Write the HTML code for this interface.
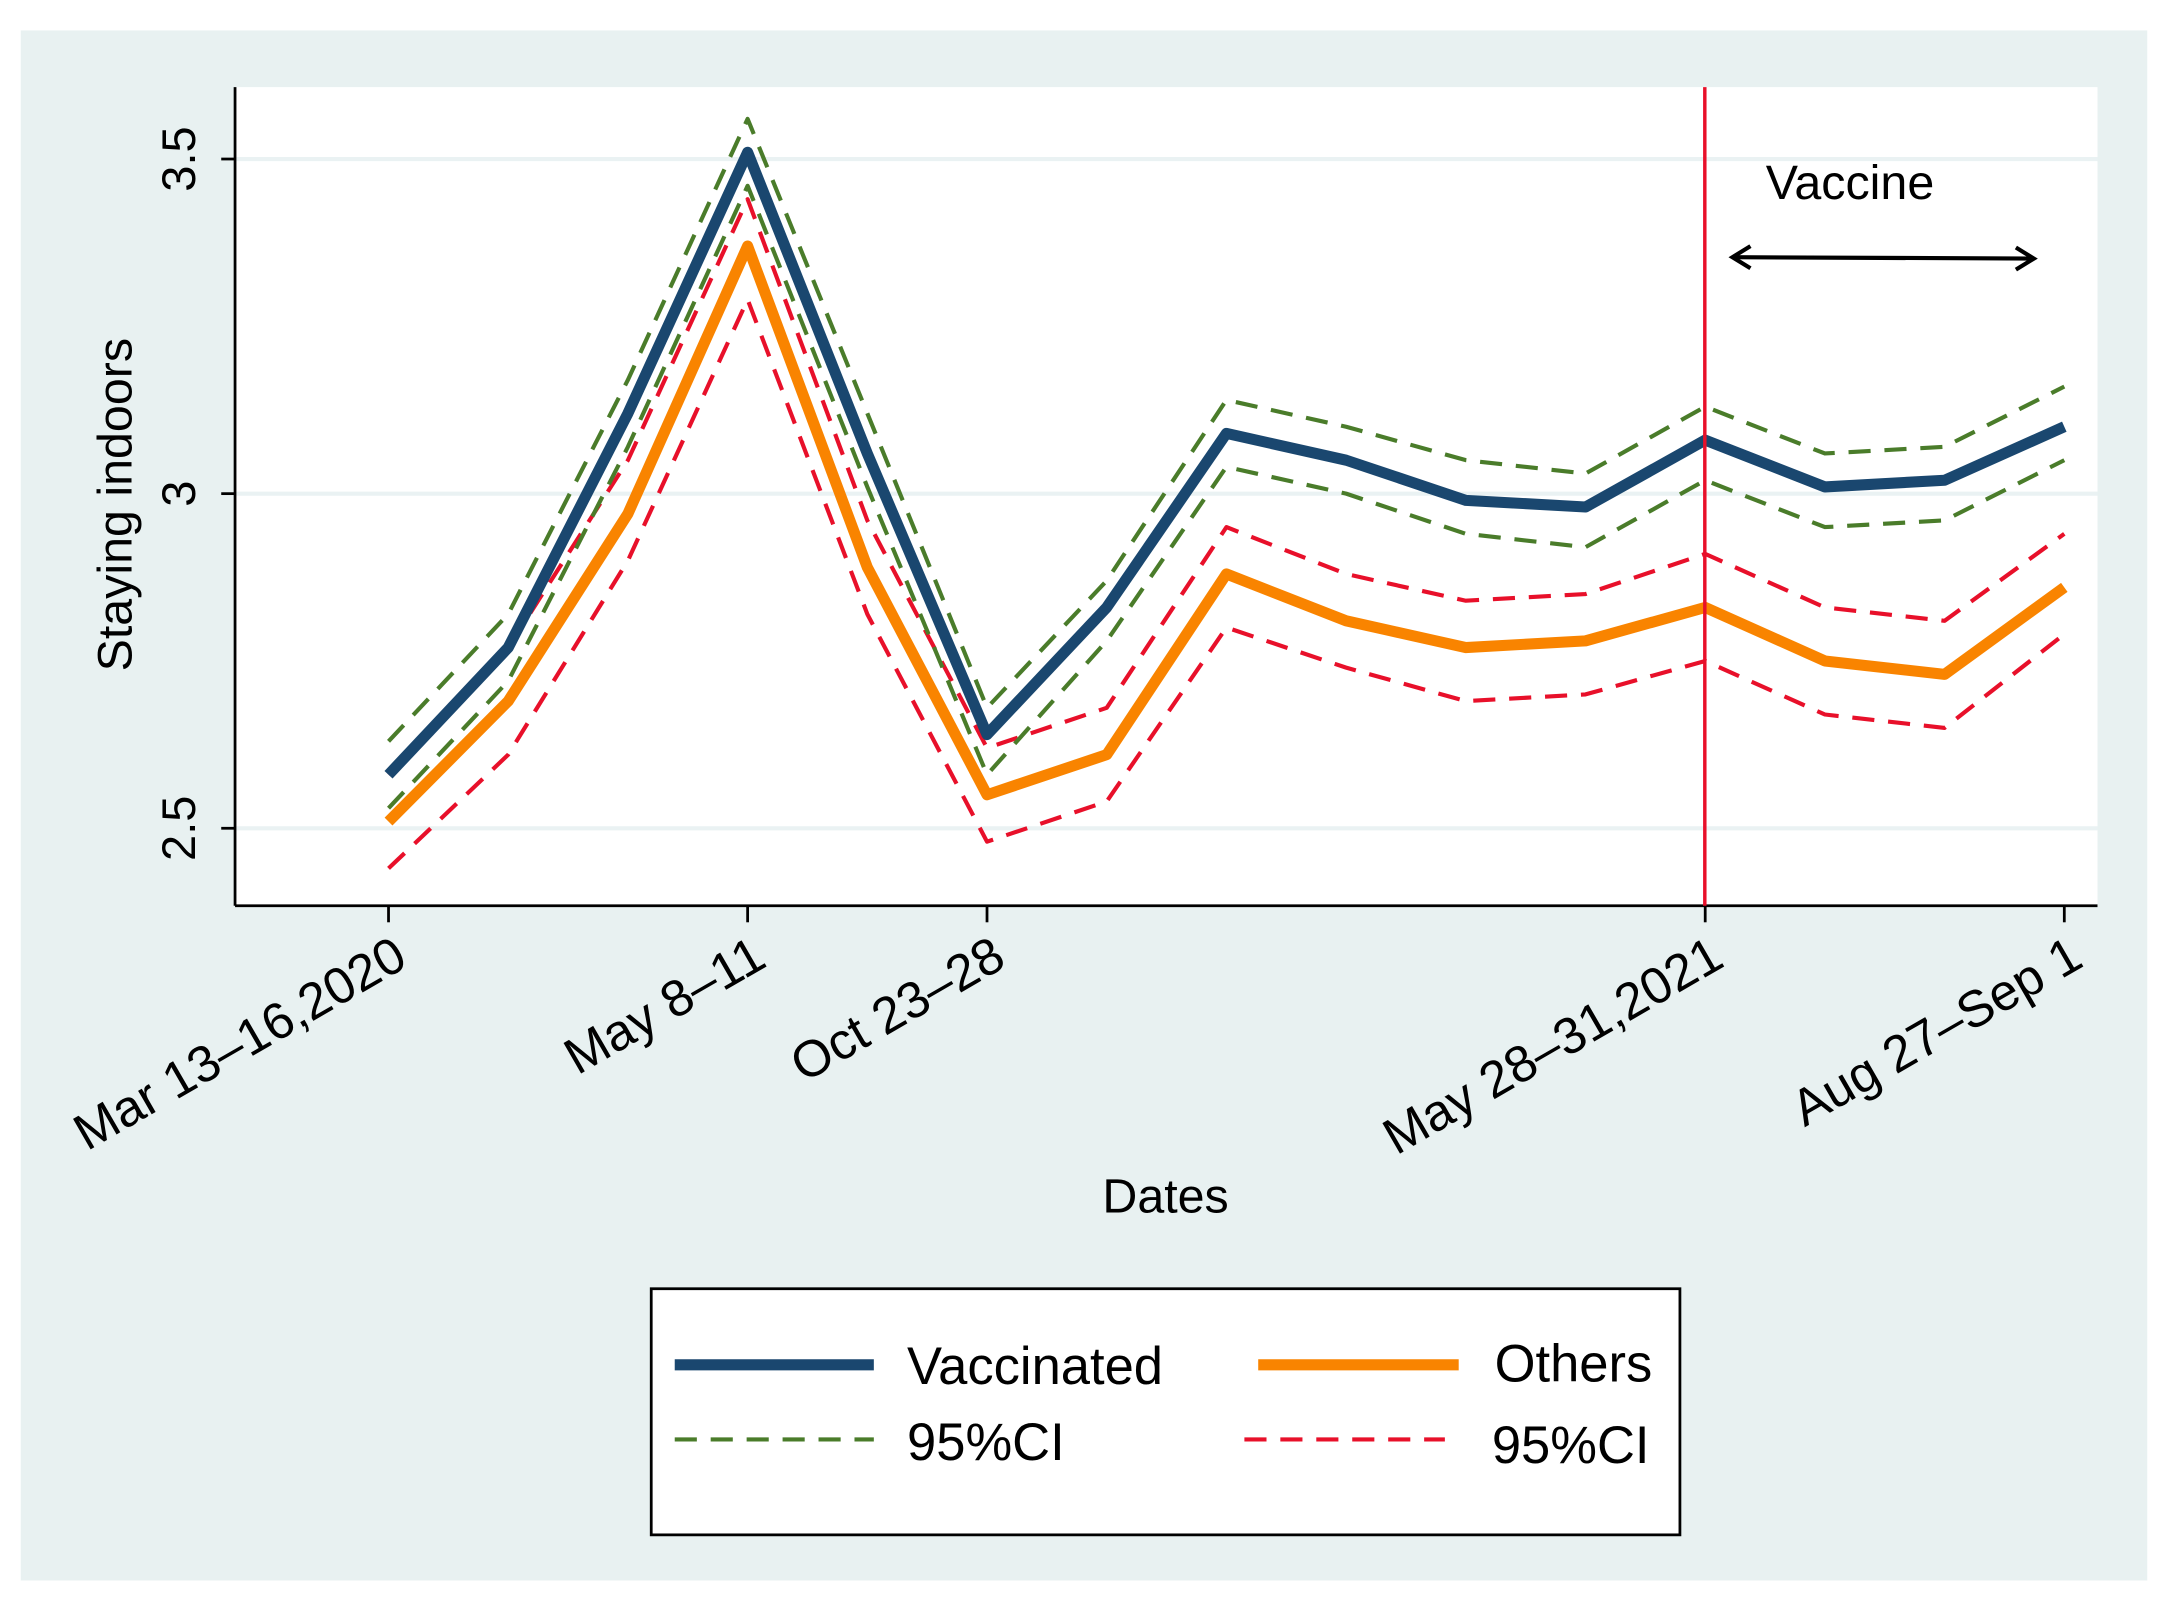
<!DOCTYPE html>
<html><head><meta charset="utf-8"><style>
html,body{margin:0;padding:0;background:#fff}
svg{display:block;font-family:"Liberation Sans",Arial,sans-serif}
</style></head><body>
<svg id="chart" width="2168" height="1604" viewBox="0 0 1568 1160" preserveAspectRatio="none" xmlns="http://www.w3.org/2000/svg">
<rect x="0" y="0" width="1568" height="1160" fill="#ffffff"/>
<rect x="15" y="22" width="1538" height="1121" fill="#e8f1f1"/>
<rect x="170" y="63" width="1347" height="592" fill="#ffffff"/>
<g id="grid"></g>
<g id="axes"></g>
<g id="series"></g>
<line x1="1233" y1="63" x2="1233" y2="655" stroke="#e8102a" stroke-width="2.5"/>
<text x="1338" y="144" font-size="35" text-anchor="middle" fill="#000">Vaccine</text>
<g stroke="#000" stroke-width="3" fill="none">
<line x1="1253" y1="186" x2="1471" y2="187"/>
<polyline points="1266,178 1253,186 1266,194"/>
<polyline points="1458,179 1471,187 1458,195"/>
</g>
<text transform="translate(95,365) rotate(-90)" font-size="35" text-anchor="middle" fill="#000">Staying indoors</text>
<text x="843" y="877" font-size="35" text-anchor="middle" fill="#000">Dates</text>
<g>
<rect x="471" y="932" width="744" height="178" fill="#fff" stroke="#000" stroke-width="2"/>
<line x1="488" y1="987" x2="632" y2="987" stroke="#1a476f" stroke-width="8"/>
<text x="656" y="1001" font-size="38">Vaccinated</text>
<line x1="910" y1="987" x2="1055" y2="987" stroke="#f98400" stroke-width="8"/>
<text x="1195" y="999" font-size="38" text-anchor="end">Others</text>
<line x1="488" y1="1041" x2="632" y2="1041" stroke="#4a7c2a" stroke-width="3" stroke-dasharray="16,10"/>
<text x="656" y="1056" font-size="38">95%CI</text>
<line x1="900" y1="1041" x2="1045" y2="1041" stroke="#e8102a" stroke-width="3" stroke-dasharray="16,10"/>
<text x="1193" y="1058" font-size="38" text-anchor="end">95%CI</text>
</g>
</svg>
<script>
const vaccinated = [2.58,2.77,3.12,3.51,3.06,2.64,2.83,3.09,3.05,2.99,2.98,3.08,3.01,3.02,3.10];
const vaccinatedUpper = [2.63,2.82,3.17,3.56,3.12,2.68,2.87,3.14,3.10,3.05,3.03,3.13,3.06,3.07,3.16];
const vaccinatedLower = [2.53,2.72,3.07,3.46,3.01,2.58,2.78,3.04,3.00,2.94,2.92,3.02,2.95,2.96,3.05];
const others = [2.51,2.69,2.97,3.37,2.89,2.55,2.61,2.88,2.81,2.77,2.78,2.83,2.75,2.73,2.86];
const othersUpper = [2.58,2.77,3.05,3.44,2.96,2.62,2.68,2.95,2.88,2.84,2.85,2.91,2.83,2.81,2.94];
const othersLower = [2.44,2.61,2.90,3.29,2.82,2.48,2.54,2.80,2.74,2.69,2.70,2.75,2.67,2.65,2.79];
const yTicks = [2.5,3,3.5];
const yTickLabels = ["2.5","3","3.5"];
const xTickIdx = [0,3,5,11,14];
const xTickLabels = ["Mar 13\u201316,2020","May 8\u201311","Oct 23\u201328","May 28\u201331,2021","Aug 27\u2013Sep 1"];

const NS="http://www.w3.org/2000/svg";
const xs = i => 281 + i*(1493-281)/14;
const ys = v => 357 - (v-3)*484;
function mk(tag, attrs, parent){const e=document.createElementNS(NS,tag);for(const k in attrs)e.setAttribute(k,attrs[k]);parent.appendChild(e);return e;}
const grid=document.getElementById('grid'), axes=document.getElementById('axes'), series=document.getElementById('series');
yTicks.forEach((v,i)=>{
  const g=mk('line',{x1:170,x2:1517,y1:ys(v),y2:ys(v),stroke:'#eaf2f3','stroke-width':3},grid);
  
  
  const t=mk('line',{x1:160,x2:170,y1:ys(v),y2:ys(v),stroke:'#000','stroke-width':2},axes);
  
  
  const l=mk('text',{transform:`translate(141,${ys(v)}) rotate(-90)`,'font-size':34,'text-anchor':'middle'},axes);
  l.textContent=yTickLabels[i];
  
  
});
const ya=mk('line',{x1:170,x2:170,y1:63,y2:655,stroke:'#000','stroke-width':2},axes);


const xa=mk('line',{x1:170,x2:1517,y1:655,y2:655,stroke:'#000','stroke-width':2},axes);


xTickIdx.forEach((idx,i)=>{
  const x=xs(idx);
  const t=mk('line',{x1:x,x2:x,y1:655,y2:667,stroke:'#000','stroke-width':2},axes);
  
  
  const l=mk('text',{transform:`translate(${x+2},${675}) rotate(-30)`,'font-size':37,'text-anchor':'end','dominant-baseline':'hanging'},axes);
  l.textContent=xTickLabels[i];
  
  
});
function line(data,color,w,dash,name){
  const p=mk('polyline',{points:data.map((v,i)=>xs(i)+','+ys(v)).join(' '),fill:'none',stroke:color,'stroke-width':w,'stroke-linejoin':'round'},series);
  if(dash)p.setAttribute('stroke-dasharray',dash);
  
  
}
line(othersUpper,'#e8102a',3,'16,10','others-ci-upper');
line(othersLower,'#e8102a',3,'16,10','others-ci-lower');
line(others,'#f98400',8,null,'others-line');
line(vaccinatedUpper,'#4a7c2a',3,'16,10','vaccinated-ci-upper');
line(vaccinatedLower,'#4a7c2a',3,'16,10','vaccinated-ci-lower');
line(vaccinated,'#1a476f',8,null,'vaccinated-line');
</script>
</body></html>
